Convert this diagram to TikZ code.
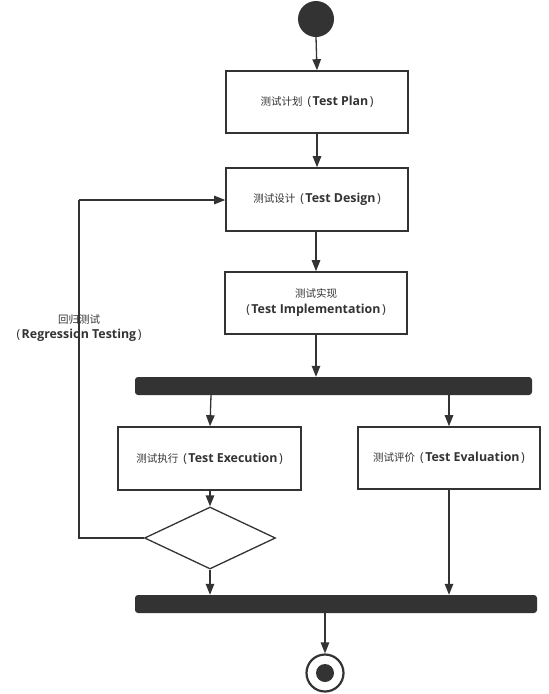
\documentclass[tikz,border=0pt]{standalone}
\usepackage{fontspec}
\setmainfont{Noto Sans CJK SC}
\newfontfamily\latinfont{Open Sans}
\usetikzlibrary{arrows.meta,shapes.geometric}
\definecolor{ink}{HTML}{333333}
\newcommand{\en}[1]{\hspace{5pt}{\latinfont\fontsize{12.4}{16}\selectfont(\hspace{1.5pt}\textbf{#1}\hspace{1.5pt})}}
\newcommand{\enl}[1]{{\latinfont\fontsize{12.4}{16}\selectfont(\hspace{1.5pt}\textbf{#1}\hspace{1.5pt})}}
\begin{document}
\begin{tikzpicture}[x=1pt,y=-1pt,
  every node/.style={font=\fontsize{10.5}{16}\selectfont, text=ink},
  actbox/.style={draw=ink, line width=1.6pt, fill=white, minimum width=182pt, minimum height=62pt, inner sep=0pt, align=center},
  syncbar/.style={fill=ink, rounded corners=3pt, minimum height=18pt, inner sep=0pt},
  flow/.style={draw=ink, line width=1.3pt, -{Triangle[length=11pt,width=8.5pt]}},
  loopline/.style={draw=ink, line width=1.3pt}
]
\useasboundingbox (0,0) rectangle (549,694);
\node[circle, fill=ink, minimum size=36pt, inner sep=0pt] (start) at (316,19) {};
\node[actbox] (plan) at (317,102) {测试计划\en{Test Plan}};
\node[actbox, minimum height=63pt] (design) at (317,199.5) {测试设计\en{Test Design}};
\node[actbox] (impl) at (316,303) {测试实现\\\enl{Test Implementation}};
\node[syncbar, minimum width=397pt] (bar1) at (333.5,386) {};
\node[actbox, minimum width=183pt, minimum height=63pt] (exec) at (209.5,458.5) {测试执行\en{Test Execution}};
\node[actbox] (eval) at (449,458) {测试评价\en{Test Evaluation}};
\node[diamond, draw=ink, line width=1.3pt, minimum width=131pt, minimum height=62pt, inner sep=0pt, aspect=2.1] (dec) at (210,538) {};
\node[syncbar, minimum width=402pt] (bar2) at (336,604) {};
\node[circle, draw=ink, line width=2.2pt, minimum size=37pt, inner sep=0pt] (end) at (325,673) {};
\node[circle, fill=ink, minimum size=18pt, inner sep=0pt] (enddot) at (end.center) {};
\coordinate (loopbot) at (79,538);
\coordinate (looptop) at (79,200);
\node[align=center, font=\fontsize{10.5}{15}\selectfont] (lbl) at (79,328) {回归测试\\\enl{Regression Testing}};

\draw[flow] (start.south) -- (plan.north);
\draw[flow] (plan.south) -- (design.north -| plan.south);
\draw[flow] (design.south -| impl.north) -- (impl.north);
\draw[flow] (impl.south) -- (bar1.north -| impl.south);
\draw[flow] (bar1.south -| 211,0) -- (exec.north -| 210,0);
\draw[flow] (bar1.south -| eval.north) -- (eval.north);
\draw[flow] (exec.south -| dec.north) -- (dec.north);
\draw[flow] (dec.south) -- (bar2.north -| dec.south);
\draw[flow] (eval.south) -- (bar2.north -| eval.south);
\draw[flow] (bar2.south -| end.north) -- (end.north);
\draw[loopline] (dec.west) -- (loopbot) -- (looptop);
\draw[flow] (looptop) -- (looptop -| design.west);
\end{tikzpicture}
\end{document}
